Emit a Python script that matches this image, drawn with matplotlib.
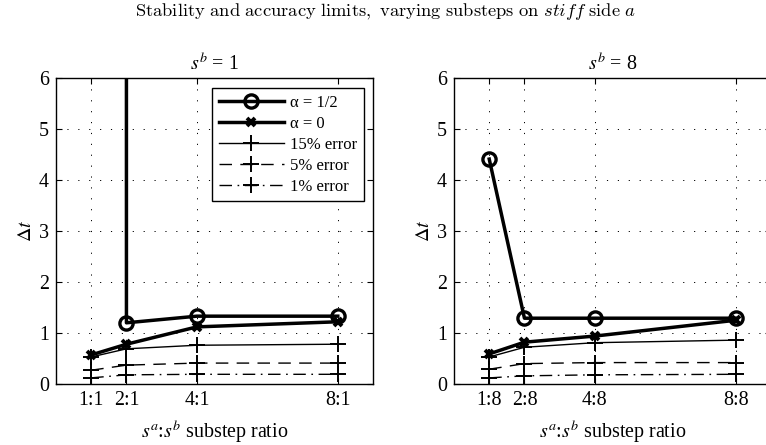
import matplotlib
matplotlib.use("Agg")
import matplotlib.pyplot as plt
import numpy as np

plt.rcParams["font.family"] = ["Liberation Serif", "DejaVu Serif"]
plt.rcParams["mathtext.fontset"] = "stix"

# substep positions and tick labels
x_pos = [1, 2, 4, 8]
labels_sb1 = ["1:1", "2:1", "4:1", "8:1"]
labels_sb8 = ["1:8", "2:8", "4:8", "8:8"]

# s^b = 1 : stability (alpha) and accuracy (error) limits on dt
sb1_alpha_half = [1.0e4, 1.20, 1.33, 1.33]
sb1_alpha_zero = [0.57, 0.78, 1.12, 1.22]
sb1_err15 = [0.53, 0.69, 0.76, 0.78]
sb1_err5 = [0.27, 0.37, 0.41, 0.41]
sb1_err1 = [0.12, 0.18, 0.19, 0.19]

# s^b = 8
sb8_alpha_half = [4.41, 1.29, 1.29, 1.29]
sb8_alpha_zero = [0.59, 0.82, 0.94, 1.25]
sb8_err15 = [0.53, 0.72, 0.81, 0.86]
sb8_err5 = [0.29, 0.40, 0.42, 0.42]
sb8_err1 = [0.12, 0.16, 0.18, 0.19]

W, H = 766, 445
fig = plt.figure(figsize=(W / 100, H / 100), dpi=100)


def frac(x0, y0, x1, y1):
    return [x0 / W, 1 - y1 / H, (x1 - x0) / W, (y1 - y0) / H]


ax1 = fig.add_axes(frac(56, 78, 373, 384))
ax2 = fig.add_axes(frac(454, 78, 771, 384))

tick_fs = 14.4


def draw(ax, ah, az, e15, e5, e1, xlabels, title, legend=False):
    thick = dict(color="black", lw=2.5)
    ax.plot(x_pos, ah, marker="o", ms=9.5, mfc="none", mew=2.4, label="α = 1/2", **thick)
    ax.plot(x_pos, az, marker="x", ms=6, mew=2.8, label="α = 0", **thick)
    thin = dict(color="black", lw=1.0, marker="+", ms=11, mew=1.4)
    ax.plot(x_pos, e15, ls="-", label="15% error", **thin)
    ax.plot(x_pos, e5, ls=(0, (9, 6)), label="5% error", **thin)
    ax.plot(x_pos, e1, ls=(0, (9, 4, 1.2, 4)), label="1% error", **thin)

    ax.set_xlim(0, 9)
    ax.set_ylim(0, 6)
    ax.set_xticks(x_pos)
    ax.set_xticklabels(xlabels)
    ax.set_yticks(range(7))
    ax.grid(True, color="black", lw=0.7, ls=(0, (1.2, 10)))
    ax.tick_params(direction="in", length=4, width=0.8, labelsize=tick_fs,
                   top=True, right=True, pad=5)
    for s in ax.spines.values():
        s.set_linewidth(1.0)
    ax.set_ylabel(r"$\Delta t$", fontsize=tick_fs, labelpad=2)
    ax.set_xlabel(r"$s^a$:$s^b$ substep ratio", fontsize=tick_fs, labelpad=6)
    ax.set_title(title, fontsize=tick_fs, pad=6)
    if legend:
        leg = ax.legend(loc="upper right", bbox_to_anchor=(0.972, 0.967),
                        borderaxespad=0, fancybox=False, framealpha=1,
                        edgecolor="black", fontsize=12, handlelength=3.9,
                        labelspacing=0.3, handletextpad=0.4,
                        borderpad=0.4)
        leg.get_frame().set_linewidth(1.0)


draw(ax1, sb1_alpha_half, sb1_alpha_zero, sb1_err15, sb1_err5, sb1_err1,
     labels_sb1, r"$s^b$ = 1", legend=True)
draw(ax2, sb8_alpha_half, sb8_alpha_zero, sb8_err15, sb8_err5, sb8_err1,
     labels_sb8, r"$s^b$ = 8")

fig.text(386 / W, 1 - 11 / H,
         r"$\mathrm{Stability\ and\ accuracy\ limits,\ varying\ substeps\ on\ }"
         r"\mathit{stiff}\mathrm{\ side\ }a$",
         ha="center", va="center", fontsize=13.3, math_fontfamily="cm")

fig.savefig("out.png", dpi=100)
